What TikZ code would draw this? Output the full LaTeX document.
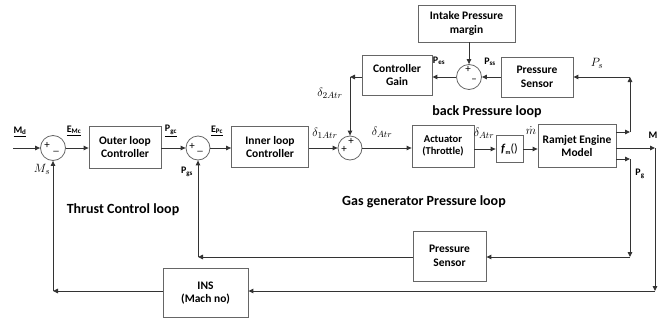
\documentclass[tikz,border=0pt]{standalone}
\usepackage{fontspec}
\setmainfont{Carlito}
\usetikzlibrary{arrows.meta,calc}
\begin{document}
\begin{tikzpicture}[x=1pt,y=-1pt,
  blk/.style={draw=black!60, line width=0.8pt, fill=white, align=center, font=\fontsize{11.5}{13.5}\selectfont\bfseries, inner sep=0pt},
  sumc/.style={draw=black!60, line width=0.8pt, circle, minimum size=25pt, inner sep=0pt},
  arr/.style={draw=black!80, line width=0.9pt, -{Triangle[length=5pt,width=4.5pt]}},
  lbl/.style={font=\fontsize{10}{11}\selectfont\bfseries, inner sep=0pt},
  mlbl/.style={font=\fontsize{13}{14}\selectfont, inner sep=0pt},
  loopl/.style={font=\fontsize{14}{16}\selectfont\bfseries, inner sep=0pt},
  sg/.style={font=\fontsize{11}{11}\selectfont, inner sep=0pt}
]
\useasboundingbox (0,0) rectangle (658,324);

% blocks
\node[sumc] (s1) at (53,148) {};
\node[blk, minimum width=72pt, minimum height=42pt] (outer) at (125,147) {Outer loop\\Controller};
\node[sumc, minimum size=24pt] (s2) at (198,148) {};
\node[blk, minimum width=77pt, minimum height=41pt] (inner) at (270,147) {Inner loop\\Controller};
\node[sumc, minimum size=24pt] (s3) at (350,148) {};
\node[blk, minimum width=62pt, minimum height=42pt, font=\fontsize{10.5}{12.5}\selectfont\bfseries] (act) at (443,146) {Actuator\\(Throttle)};
\node[blk, minimum width=27pt, minimum height=27pt, font=\fontsize{12}{12}\selectfont] (fb) at (509.5,149) {\textbf{\textit{f}}\raisebox{-2pt}{\fontsize{6}{6}\selectfont\bfseries m}()};
\node[blk, minimum width=78pt, minimum height=43pt] (rj) at (577,146) {Ramjet Engine\\Model};
\node[blk, minimum width=70pt, minimum height=40pt] (cg) at (397,75) {Controller\\Gain};
\node[sumc] (s4) at (469,77) {};
\node[blk, minimum width=97pt, minimum height=37pt] (ipm) at (466.5,23.5) {Intake Pressure\\margin};
\node[blk, minimum width=72pt, minimum height=40pt] (pst) at (537,77) {Pressure\\Sensor};
\node[blk, minimum width=73pt, minimum height=50pt] (psb) at (449.5,256) {Pressure\\Sensor};
\node[blk, minimum width=85pt, minimum height=49pt] (ins) at (205.5,293) {INS\\(Mach no)};

% sum signs
\node[sg] at ($(s1)+(-6,-3)$) {+};
\node[sg] at ($(s1)+(3,3)$) {\_};
\node[sg] at ($(s2)+(-6,-2)$) {+};
\node[sg] at ($(s2)+(2,3)$) {\_};
\node[sg] at ($(s3)+(1,-7)$) {+};
\node[sg] at ($(s3)+(-6,1)$) {+};
\node[sg] at ($(s4)+(-1,-8)$) {+};
\node[sg] at ($(s4)+(5,4)$) {--};

% coordinates
\coordinate (in0) at (13,148);
\coordinate (ra) at (630,132);
\coordinate (rb) at (630,77);
\coordinate (rm) at (655,148);
\coordinate (rmd) at (655,291);
\coordinate (rg) at (630,159);
\coordinate (rgd) at (630,257);
\coordinate (fgl) at (198,257);
\coordinate (fml) at (53,291);
\coordinate (cgl) at (350,77);

% main path
\draw[arr] (in0) -- (s1.west);
\draw[arr] (s1.east) -- (outer.west |- s1);
\draw[arr] (outer.east |- s2) -- (s2.west);
\draw[arr] (s2.east) -- (inner.west |- s2);
\draw[arr] (inner.east |- s3) -- (s3.west);
\draw[arr] (s3.east) -- (act.west |- s3);
\draw[arr] (act.east |- fb) -- (fb.west);
\draw[arr] (fb.east) -- (rj.west |- fb);

% outputs of ramjet
\draw[arr] (rj.east |- ra) -- (ra);
\draw[arr] (ra) -- (rb);
\draw[arr] (rb) -- (pst.east |- rb);
\draw[arr] (rj.east |- rm) -- (rm);
\draw[arr] (rm) -- (rmd);
\draw[arr] (rmd) -- (ins.east |- rmd);
\draw[arr] (rj.east |- rg) -- (rg);
\draw[arr] (rg) -- (rgd);
\draw[arr] (rgd) -- (psb.east |- rgd);

% feedbacks
\draw[arr] (psb.west |- fgl) -- (fgl);
\draw[arr] (fgl) -- (s2.south);
\draw[arr] (ins.west |- fml) -- (fml);
\draw[arr] (fml) -- (s1.south);

% back pressure loop
\draw[arr] (pst.west |- s4) -- (s4.east);
\draw[arr] (ipm.south -| s4) -- (s4.north);
\draw[arr] (s4.west) -- (cg.east |- s4);
\draw[arr] (cg.west |- cgl) -- (cgl);
\draw[arr] (cgl) -- (s3.north);

% labels
\node[lbl] (lMd) at (20,132) {\underline{M\textsubscript{d}}};
\node[lbl] (lEMc) at (74,131) {\underline{E\textsubscript{Mc}}};
\node[lbl] (lPgc) at (171,131) {\underline{P\textsubscript{gc}}};
\node[lbl] (lEPc) at (217,131) {\underline{E\textsubscript{Pc}}};
\node[mlbl] (lMs) at (42,169) {$M_s$};
\node[lbl] (lPgs) at (187,172) {P\textsubscript{gs}};
\node[mlbl] (ld1) at (325,133) {$\delta_{1Atr}$};
\node[mlbl] (ld2) at (330,93) {$\delta_{2Atr}$};
\node[mlbl] (ld) at (382,132) {$\delta_{Atr}$};
\node[mlbl] (ld3) at (484,133) {$\delta_{Atr}$};
\node[mlbl] (lmd) at (531,131) {$\dot{m}$};
\node[lbl] (lPes) at (439,61) {P\textsubscript{es}};
\node[lbl] (lPss) at (490,62) {P\textsubscript{ss}};
\node[mlbl] (lPs) at (597,63) {$P_s$};
\node[lbl] (lM) at (653,135) {M};
\node[lbl] (lPg) at (640,174) {P\textsubscript{g}};
\node[loopl] (lt) at (123,210) {Thrust Control loop};
\node[loopl] (lb) at (487,112) {back Pressure loop};
\node[loopl] (lg) at (424,202) {Gas generator Pressure loop};
\end{tikzpicture}
\end{document}
